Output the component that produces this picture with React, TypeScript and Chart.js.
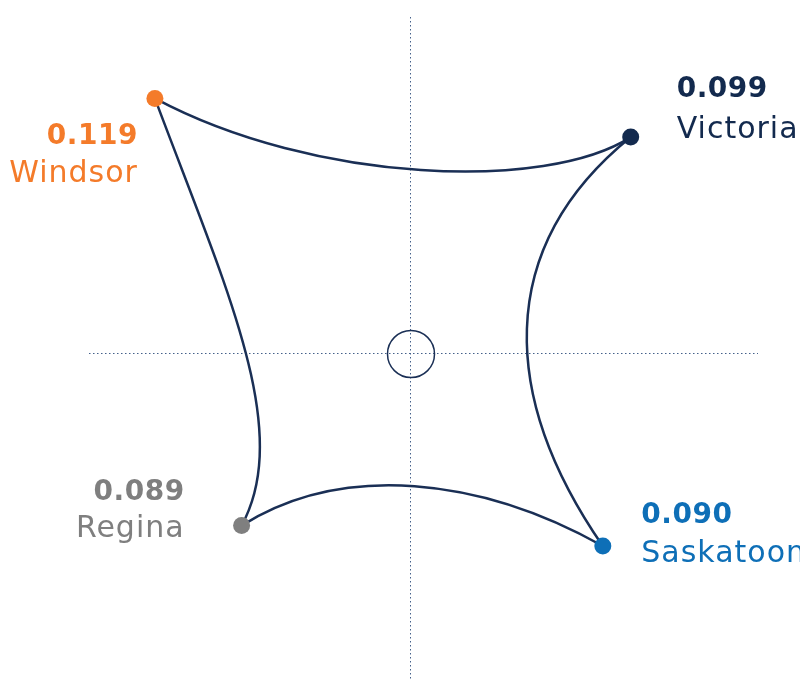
import { useEffect, useRef } from 'react';
import { Chart, registerables } from 'chart.js';

Chart.register(...registerables);

// ---- data ----
const cities = ['Windsor', 'Victoria', 'Saskatoon', 'Regina'];
const scores = [0.119, 0.099, 0.09, 0.089];
// position of each city on the quadrant map (centre = 0,0)
const posX = [-0.852, 0.734, 0.641, -0.563];
const posY = [0.852, 0.723, -0.64, -0.572];

// ---- style ----
const pointColors = ['#F47B2A', '#132A4E', '#0E6FB7', '#7F7F7F'];
const labelAlign: CanvasTextAlign[] = ['right', 'left', 'left', 'right'];
const labelDx = [-17, 46, 38.5, -57];
const valueDy = [45.5, -40, -23, -25.5];
const nameDy = [83.5, 1, 16, 11.5];
// curved edges: [from, to, bendFrom(deg), handleFrom, bendTo(deg), handleTo]
const edges: [number, number, number, number, number, number][] = [
  [0, 1, 23.5, 0.378, 37.5, 0.21],
  [1, 2, 47, 0.435, 38.5, 0.435],
  [3, 2, 35.3, 0.332, 26, 0.387],
  [0, 3, 9, 0.46, 40, 0.25],
];
const lineColor = '#1A2F55';
const gridColor = '#44608A';

export default function App() {
  const ref = useRef<HTMLCanvasElement>(null);

  useEffect(() => {
    document.body.style.margin = '0';
    const canvas = ref.current!;

    const overlay = {
      id: 'overlay',
      beforeDatasetsDraw(chart: any) {
        const { ctx, chartArea } = chart;
        const xs = chart.scales.x;
        const ys = chart.scales.y;
        const cx = Math.round(xs.getPixelForValue(0) - 0.5) + 0.5;
        const cy = Math.round(ys.getPixelForValue(0) - 0.5) + 0.5;
        ctx.save();
        // dotted crosshair
        ctx.strokeStyle = gridColor;
        ctx.lineWidth = 1;
        ctx.setLineDash([1.5, 2.5]);
        ctx.beginPath();
        ctx.moveTo(cx, chartArea.top);
        ctx.lineTo(cx, chartArea.bottom);
        ctx.moveTo(chartArea.left, cy);
        ctx.lineTo(chartArea.right, cy);
        ctx.stroke();
        ctx.setLineDash([]);
        // centre circle
        ctx.strokeStyle = lineColor;
        ctx.lineWidth = 1.5;
        ctx.beginPath();
        ctx.arc(cx + 0.5, cy + 0.5, 23.5, 0, Math.PI * 2);
        ctx.stroke();
        // curved edges
        const px = posX.map((v) => xs.getPixelForValue(v));
        const py = posY.map((v) => ys.getPixelForValue(v));
        const handle = (p: number, q: number, bend: number, frac: number) => {
          const dx = px[q] - px[p];
          const dy = py[q] - py[p];
          const len = Math.hypot(dx, dy);
          const ux = dx / len;
          const uy = dy / len;
          const ox = cx - px[p];
          const oy = cy - py[p];
          const s = Math.sign(ux * oy - uy * ox) || 1;
          const a = (s * bend * Math.PI) / 180;
          const rx = ux * Math.cos(a) - uy * Math.sin(a);
          const ry = ux * Math.sin(a) + uy * Math.cos(a);
          return [px[p] + rx * frac * len, py[p] + ry * frac * len];
        };
        ctx.strokeStyle = lineColor;
        ctx.lineWidth = 2.5;
        ctx.lineCap = 'round';
        for (const [a, b, bA, hA, bB, hB] of edges) {
          const c1 = handle(a, b, bA, hA);
          const c2 = handle(b, a, bB, hB);
          ctx.beginPath();
          ctx.moveTo(px[a], py[a]);
          ctx.bezierCurveTo(c1[0], c1[1], c2[0], c2[1], px[b], py[b]);
          ctx.stroke();
        }
        ctx.restore();
      },
      afterDatasetsDraw(chart: any) {
        const { ctx } = chart;
        const xs = chart.scales.x;
        const ys = chart.scales.y;
        ctx.save();
        ctx.textBaseline = 'alphabetic';
        cities.forEach((name, i) => {
          const x = xs.getPixelForValue(posX[i]) + labelDx[i];
          const y = ys.getPixelForValue(posY[i]);
          ctx.fillStyle = pointColors[i];
          ctx.textAlign = labelAlign[i];
          ctx.letterSpacing = '0.5px';
          ctx.font = 'bold 28px "DejaVu Sans"';
          ctx.fillText(scores[i].toFixed(3), x, y + valueDy[i]);
          ctx.letterSpacing = '1px';
          ctx.font = '30px "DejaVu Sans"';
          ctx.fillText(name, x, y + nameDy[i]);
        });
        ctx.restore();
      },
    };

    const chart = new Chart(canvas, {
      type: 'scatter',
      data: {
        datasets: [
          {
            data: posX.map((x, i) => ({ x, y: posY[i] })),
            pointBackgroundColor: pointColors,
            pointBorderWidth: 0,
            pointRadius: 8.5,
            pointHoverRadius: 8.5,
            showLine: false,
            clip: false,
          },
        ],
      },
      options: {
        responsive: true,
        maintainAspectRatio: false,
        animation: false,
        events: [],
        layout: { autoPadding: false, padding: { left: 89, right: 42, top: 17, bottom: 0 } },
        scales: {
          x: { type: 'linear', min: -1.0717, max: 1.1583, display: false },
          y: { type: 'linear', min: -1.09, max: 1.1233, display: false },
        },
        plugins: { legend: { display: false }, tooltip: { enabled: false } },
      },
      plugins: [overlay],
    });
    return () => chart.destroy();
  }, []);

  return (
    <div style={{ position: 'absolute', left: 0, top: 0, width: 800, height: 681 }}>
      <canvas ref={ref} />
    </div>
  );
}
